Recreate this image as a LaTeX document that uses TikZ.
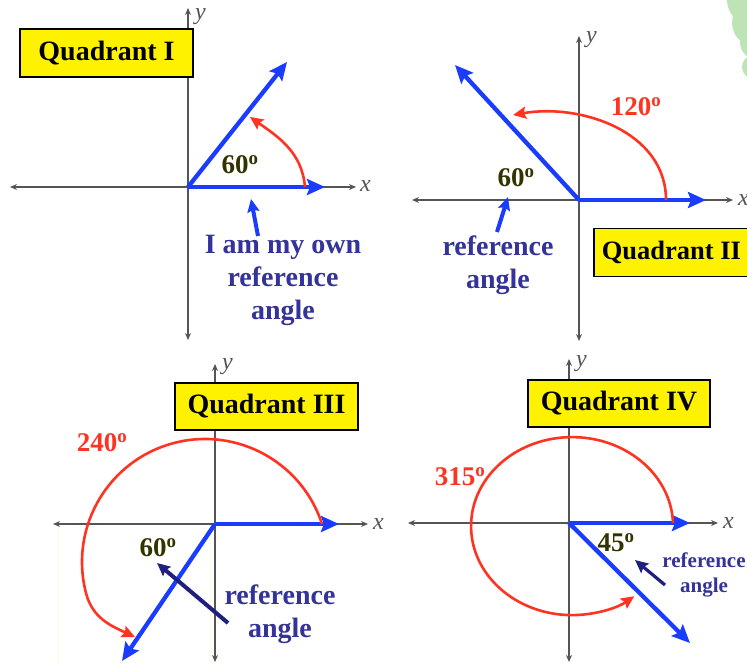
\documentclass[tikz,border=0pt]{standalone}
\usepackage{fontspec}
\setmainfont{Liberation Serif}
\usetikzlibrary{arrows.meta}
\definecolor{ablue}{HTML}{1A3CFF}
\definecolor{ared}{HTML}{FF3322}
\definecolor{navy}{HTML}{1F1F80}
\definecolor{txtblue}{HTML}{333399}
\definecolor{olive}{HTML}{333300}
\definecolor{axisgray}{HTML}{555555}
\definecolor{leaf}{HTML}{BEE3B6}
\definecolor{paleyel}{HTML}{FFFBDD}
\begin{document}
\begin{tikzpicture}[x=1pt,y=1pt,
  axis/.style={draw=axisgray, line width=1.6pt, {Stealth[length=7pt,width=6pt]}-{Stealth[length=7pt,width=6pt]}},
  ray/.style={draw=ablue, line width=4.3pt, -{Stealth[length=18pt,width=16pt,inset=3pt]}},
  turn/.style={draw=ared, line width=2.6pt, -{Stealth[length=13pt,width=12pt,inset=2pt]}},
  pointer/.style={draw=ablue, line width=4pt, -{Stealth[length=13pt,width=12pt,inset=2pt]}},
  npointer/.style={draw=navy, line width=4pt, -{Stealth[length=13pt,width=12pt,inset=2pt]}},
  qbox/.style={draw=black, fill=yellow, line width=1.6pt, font=\fontsize{28}{30}\selectfont\bfseries, inner xsep=7pt, minimum height=48pt},
  alab/.style={font=\fontsize{24}{26}\selectfont\itshape, text=axisgray, inner sep=1pt},
  deg/.style={font=\fontsize{27}{28}\selectfont\bfseries, text=olive, inner sep=1pt},
  degred/.style={font=\fontsize{27}{28}\selectfont\bfseries, text=ared, inner sep=1pt},
  note/.style={font=\fontsize{28}{33}\selectfont\bfseries, text=txtblue, align=center, inner sep=0pt},
  smallnote/.style={font=\fontsize{21}{25}\selectfont\bfseries, text=txtblue, align=center, inner sep=0pt},
]
\useasboundingbox (0,0) rectangle (747,-664);
\clip (0,0) rectangle (747,-664);
\fill[white] (0,0) rectangle (747,-664);

% green decoration
\fill[leaf] (752,0) circle (25pt) (755,-23) circle (23pt) (758,-42) circle (18pt) (754,-67) circle (12pt);

% faint lines (quadrant III)
\draw[paleyel, line width=1pt] (58,-528) -- (58,-664);
\draw[paleyel, line width=1pt] (210,-530) -- (210,-664);

% ================= Quadrant I =================
\coordinate (O1) at (188,-187);
\coordinate (X1l) at (10,-187);
\coordinate (X1r) at (356,-187);
\coordinate (Y1t) at (188,-8);
\coordinate (Y1b) at (188,-340);
\draw[axis] (X1l) -- (X1r);
\draw[axis] (Y1b) -- (Y1t);
\node[alab, anchor=west] (x1) at (359,-186) {x};
\node[alab, anchor=west] (y1) at (194,-17) {y};
\coordinate (T1) at (287,-62);
\coordinate (I1) at (325,-187);
\draw[ray] (O1) -- (T1);
\draw[ray] (O1) -- (I1);
\coordinate (A1s) at (305,-187);
\coordinate (A1e) at (250,-117);
\draw[turn] (A1s) to[out=95,in=-35] (A1e);
\node[deg] (d1) at (240,-165) {60\textsuperscript{o}};
\coordinate (P1s) at (258,-236);
\coordinate (P1e) at (251,-199);
\draw[pointer] (P1s) -- (P1e);
\node[note] (n1) at (283,-280) {I am my own\\reference\\angle};
\node[qbox, minimum width=173pt] (q1) at (106.5,-53) {Quadrant I};

% ================= Quadrant II =================
\coordinate (O2) at (579,-200);
\coordinate (X2l) at (412,-200);
\coordinate (X2r) at (733,-200);
\coordinate (Y2t) at (579,-36);
\coordinate (Y2b) at (579,-341);
\draw[axis] (X2l) -- (X2r);
\draw[axis] (Y2b) -- (Y2t);
\node[alab, anchor=west] (x2) at (737,-200) {x};
\node[alab, anchor=west] (y2) at (585,-40) {y};
\coordinate (T2) at (455,-65);
\coordinate (I2) at (706,-200);
\draw[ray] (O2) -- (T2);
\draw[ray] (O2) -- (I2);
\coordinate (A2s) at (666,-200);
\coordinate (A2e) at (513,-115);
\draw[turn] (A2s) to[out=90,in=10] (A2e);
\node[degred] (d2b) at (636,-107) {120\textsuperscript{o}};
\node[deg] (d2) at (516,-178) {60\textsuperscript{o}};
\coordinate (P2s) at (497,-232);
\coordinate (P2e) at (508,-197);
\draw[pointer] (P2s) -- (P2e);
\node[note] (n2) at (498,-265) {reference\\angle};
\node[qbox, anchor=west, inner xsep=8pt, font=\fontsize{26.5}{30}\selectfont\bfseries] (q2) at (593,-252.5) {Quadrant II};

% ================= Quadrant III =================
\coordinate (O3) at (215,-524);
\coordinate (X3l) at (53,-524);
\coordinate (X3r) at (368,-524);
\coordinate (Y3t) at (215,-364);
\coordinate (Y3b) at (215,-662);
\draw[axis] (X3l) -- (X3r);
\draw[axis] (Y3b) -- (Y3t);
\node[alab, anchor=west] (x3) at (372,-524) {x};
\node[alab, anchor=west] (y3) at (221,-367) {y};
\coordinate (T3) at (122,-661);
\coordinate (I3) at (339,-524);
\draw[ray] (O3) -- (T3);
\draw[ray] (O3) -- (I3);
\coordinate (A3s) at (322,-524);
\coordinate (A3e) at (135,-637);
\draw[turn] (A3s) arc[start angle=18, end angle=195, radius=123pt] to[out=285,in=155] (A3e);
\node[degred] (d3b) at (102,-443) {240\textsuperscript{o}};
\node[deg] (d3) at (158,-548) {60\textsuperscript{o}};
\coordinate (P3s) at (228,-623);
\coordinate (P3e) at (157,-563);
\draw[npointer] (P3s) -- (P3e);
\node[note] (n3) at (280,-614) {reference\\angle};
\node[qbox, minimum width=183pt, minimum height=47pt] (q3) at (266.5,-406.5) {Quadrant III};

% ================= Quadrant IV =================
\coordinate (O4) at (569,-523);
\coordinate (X4l) at (408,-523);
\coordinate (X4r) at (718,-523);
\coordinate (Y4t) at (569,-359);
\coordinate (Y4b) at (569,-662);
\draw[axis] (X4l) -- (X4r);
\draw[axis] (Y4b) -- (Y4t);
\node[alab, anchor=west] (x4) at (722,-523) {x};
\node[alab, anchor=west] (y4) at (575,-364) {y};
\coordinate (T4) at (690,-643);
\coordinate (I4) at (690,-523);
\draw[ray] (O4) -- (T4);
\draw[ray] (O4) -- (I4);
\coordinate (A4s) at (673,-523);
\draw[turn] (A4s) arc[start angle=2, end angle=308, x radius=101pt, y radius=89pt] coordinate (A4e);
\node[degred] (d4b) at (460,-477) {315\textsuperscript{o}};
\node[deg] (d4) at (616,-543) {45\textsuperscript{o}};
\coordinate (P4s) at (665,-585);
\coordinate (P4e) at (635,-560);
\draw[npointer, line width=3.2pt] (P4s) -- (P4e);
\node[smallnote] (n4) at (704,-575) {reference\\angle};
\node[qbox, minimum width=182pt, minimum height=47pt] (q4) at (619,-403.5) {Quadrant IV};
\end{tikzpicture}
\end{document}
